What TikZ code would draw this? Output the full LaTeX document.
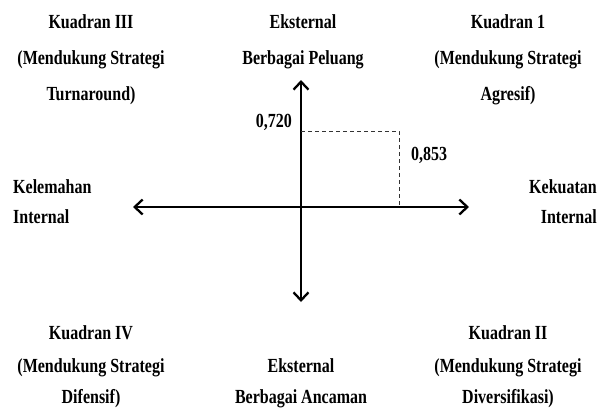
\documentclass[tikz,border=0pt]{standalone}
\usepackage{fontspec}
\setmainfont{Liberation Serif}[FakeStretch=0.80]
\usetikzlibrary{arrows.meta}
\begin{document}
\begin{tikzpicture}[x=1pt,y=-1pt,
  lbl/.style={font=\fontsize{20}{20}\selectfont\bfseries, inner sep=0pt, anchor=base},
  lbll/.style={lbl, anchor=base west},
  lblr/.style={lbl, anchor=base east},
  axis/.style={line width=2.3pt, {Straight Barb[length=8pt,width=15pt]}-{Straight Barb[length=8pt,width=15pt]}},
  guide/.style={dashed, line width=0.8pt, dash pattern=on 4pt off 3pt, black!80}]
\useasboundingbox (0,0) rectangle (608,408);
% axes endpoints
\coordinate (L) at (133,207);
\coordinate (R) at (469,207);
\coordinate (T) at (301,80);
\coordinate (B) at (301,302);
\coordinate (P) at (399,131);
\coordinate (PY) at (301,131);
\coordinate (PX) at (399,207);
\draw[axis] (L) -- (R);
\draw[axis] (B) -- (T);
\draw[guide] (PY) -- (P) -- (PX);
% top left
\node[lbl] (q3a) at (91,28) {Kuadran III};
\node[lbl] (q3b) at (91,64) {(Mendukung Strategi};
\node[lbl] (q3c) at (91,100) {Turnaround)};
% top middle
\node[lbl] (ea) at (303,28) {Eksternal};
\node[lbl] (eb) at (303,64) {Berbagai Peluang};
% top right
\node[lbl] (q1a) at (508,28) {Kuadran 1};
\node[lbl] (q1b) at (508,64) {(Mendukung Strategi};
\node[lbl] (q1c) at (508,100) {Agresif)};
% values
\node[lblr] (v1) at (292,127) {0,720};
\node[lbll] (v2) at (411,160) {0,853};
% left / right
\node[lbll] (kl1) at (13,193) {Kelemahan};
\node[lbll] (kl2) at (13,223) {Internal};
\node[lblr] (kk1) at (597,193) {Kekuatan};
\node[lblr] (kk2) at (597,223) {Internal};
% bottom left
\node[lbl] (q4a) at (91,339) {Kuadran IV};
\node[lbl] (q4b) at (91,372) {(Mendukung Strategi};
\node[lbl] (q4c) at (91,403) {Difensif)};
% bottom middle
\node[lbl] (ec) at (301,372) {Eksternal};
\node[lbl] (ed) at (301,403) {Berbagai Ancaman};
% bottom right
\node[lbl] (q2a) at (508,339) {Kuadran II};
\node[lbl] (q2b) at (508,372) {(Mendukung Strategi};
\node[lbl] (q2c) at (508,403) {Diversifikasi)};
\end{tikzpicture}
\end{document}
